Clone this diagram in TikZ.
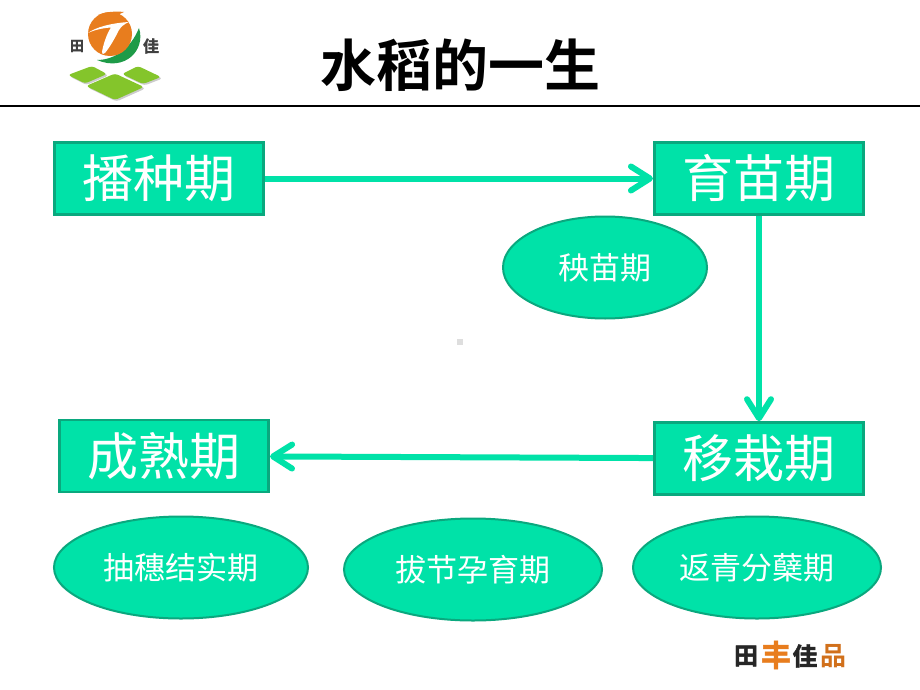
\documentclass[tikz,border=0pt]{standalone}
\usepackage{fontspec}
\usetikzlibrary{shapes.geometric,arrows.meta}
\newfontfamily\cjk{Noto Sans CJK SC}
\newfontfamily\cjkbold{Noto Sans CJK SC Bold}
\newfontfamily\cjkheavy[FakeBold=1.6]{Noto Sans CJK SC Bold}
\definecolor{fillgreen}{HTML}{00E2A8}
\definecolor{edgegreen}{HTML}{0AA87E}
\definecolor{logoorange}{HTML}{E87D1E}
\definecolor{logogreen}{HTML}{1E9B48}
\definecolor{leafgreen}{HTML}{84C52B}
\tikzset{
  x=1pt,y=-1pt,
  stagebox/.style={draw=edgegreen,fill=fillgreen,line width=2.6pt,minimum width=209.5pt,minimum height=72pt,inner sep=0pt,text=white,font=\cjk\fontsize{51}{51}\selectfont},
  phase/.style={ellipse,draw=edgegreen,fill=fillgreen,line width=2pt,inner sep=0pt,font=\cjk\fontsize{31}{31}\selectfont,text=white},
  flow/.style={draw=fillgreen,line width=6pt,-{Straight Barb[length=19pt,width=24pt,line width=6pt,round]}},
  leaf/.style={fill=leafgreen,rounded corners=3pt},
  leafshadow/.style={fill=black!20,rounded corners=3pt}
}
\begin{document}
\begin{tikzpicture}
\useasboundingbox (0,0) rectangle (920,690);
\fill[white] (0,0) rectangle (920,690);

% heading and rule
\node[font=\cjkbold\fontsize{56}{56}\selectfont,inner sep=0pt] (title) at (460,65) {水稻的一生};
\coordinate (ruleL) at (0,106.5);
\coordinate (ruleR) at (920,106.5);
\draw[line width=2pt,black] (ruleL) -- (ruleR);

% stages
\node[stagebox] (sow) at (159,178.5) {播种期};
\node[stagebox] (nursery) at (759,178.5) {育苗期};
\node[stagebox] (transplant) at (759,458.5) {移栽期};
\node[stagebox] (ripe) at (164,456) {成熟期};

% phases
\node[phase,minimum width=204pt,minimum height=102pt] (seedling) at (605,267.5) {秧苗期};
\node[phase,minimum width=254pt,minimum height=102pt] (heading) at (181,567.5) {抽穗结实期};
\node[phase,minimum width=258pt,minimum height=102pt] (jointing) at (473,569.5) {拔节孕育期};
\node[phase,minimum width=248pt,minimum height=102pt] (tiller) at (757,567.5) {返青分蘖期};

% connectors
\draw[flow] (sow) -- (nursery);
\draw[flow] (nursery) -- (transplant);
\draw[flow] (transplant) -- (ripe);

% small centre mark
\fill[black!13] (457,339) rectangle (463,345);

% logo: leaves with soft lower edge
\begin{scope}[xshift=1.5pt,yshift=-1.5pt]
\path[leafshadow] (68,75) -- (92,66) -- (107,74) -- (85,83.5) -- cycle;
\path[leafshadow] (122,74) -- (138,66) -- (161,77) -- (143,84) -- cycle;
\path[leafshadow] (86,86) -- (115,73.5) -- (144,87) -- (115,100) -- cycle;
\end{scope}
\path[leaf] (68,75) -- (92,66) -- (107,74) -- (85,83.5) -- cycle;
\path[leaf] (122,74) -- (138,66) -- (161,77) -- (143,84) -- cycle;
\path[leaf] (86,86) -- (115,73.5) -- (144,87) -- (115,100) -- cycle;

% logo: green crescent under the disc
\fill[logogreen] (139,28) .. controls (146,50) and (125,72) .. (97,60)
  .. controls (115,60) and (131,48) .. (139,28) -- cycle;

% logo: orange disc with a swept tip and a white T cut through it
\fill[logoorange] (110,34) circle[radius=22];
\fill[logoorange] (98,15) .. controls (106,12) and (114,11) .. (124,12)
  .. controls (118,14) and (118,16) .. (124,19) -- cycle;
\fill[white] (88,33) .. controls (96,27) and (112,23) .. (129,22)
  .. controls (124,24) and (121,27) .. (119,30)
  .. controls (115,38) and (110,47) .. (105,53)
  .. controls (103,55) and (102,54) .. (102,52)
  .. controls (103,46) and (106,35) .. (111,27.5)
  .. controls (103,28) and (94,30) .. (88,33) -- cycle;

% logo: characters
\node[font=\cjkheavy\fontsize{14}{14}\selectfont,text=black!75,inner sep=0pt] (logoL) at (77,46) {田};
\node[font=\cjkheavy\fontsize{16}{16}\selectfont,text=black!75,inner sep=0pt] (logoR) at (151,46) {佳};

% brand mark, lower right
\node[font=\cjkheavy\fontsize{24}{24}\selectfont,text=black!85,inner sep=0pt] (brandA) at (746,656) {田};
\node[font=\cjkheavy\fontsize{30}{30}\selectfont,text=logoorange,inner sep=0pt] (brandB) at (776,655) {丰};
\node[font=\cjkheavy\fontsize{25}{25}\selectfont,text=black!85,inner sep=0pt] (brandC) at (805,656) {佳};
\node[font=\cjkbold\fontsize{26}{26}\selectfont,text=logoorange!90!black,inner sep=0pt] (brandD) at (833,656) {品};
\end{tikzpicture}
\end{document}
